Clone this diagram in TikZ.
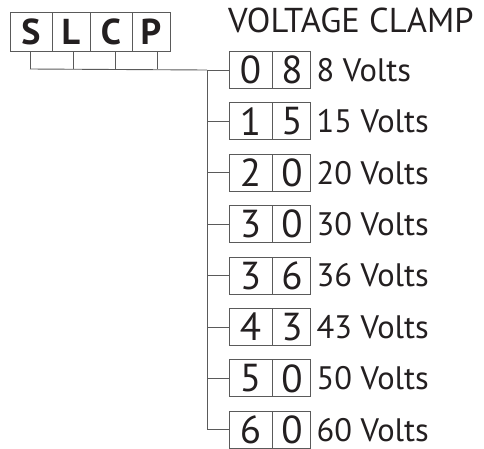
\documentclass[tikz,border=0pt]{standalone}
\usepackage{fontspec}
\setmainfont{PT Sans}
\definecolor{ink}{HTML}{231F20}
\definecolor{wire}{HTML}{5A5A5A}
\begin{document}
\begin{tikzpicture}[x=1pt,y=-1pt,
  cell/.style={draw=wire,line width=0.9pt,minimum height=39pt,inner sep=0pt,text=ink,
    font=\fontsize{36}{36}\selectfont\bfseries},
  digit/.style={draw=wire,line width=0.9pt,minimum height=37pt,inner sep=0pt,text=ink,
    font=\fontsize{39}{39}\selectfont},
  lbl/.style={anchor=west,inner sep=0pt,text=ink,font=\fontsize{32.5}{32.5}\selectfont},
  conn/.style={draw=wire,line width=0.9pt}]
\useasboundingbox (0,0) rectangle (484,448);
% part-number cells
\node[cell,minimum width=42pt] (S) at (31,31.5) {S};
\node[cell,minimum width=38pt] (L) at (71,31.5) {L};
\node[cell,minimum width=42pt] (C) at (111,31.5) {C};
\node[cell,minimum width=38pt] (P) at (151,31.5) {P};
\node[anchor=west,inner sep=0pt,text=ink,font=\fontsize{34.5}{34.5}\selectfont] (title) at (228,20) {VOLTAGE CLAMP};
% bus
\coordinate (tS) at (30,69);
\coordinate (tL) at (73,69);
\coordinate (tC) at (115,69);
\coordinate (tP) at (157,69);
\draw[conn] (tS|-S.south) -- (tS);
\draw[conn] (tL|-S.south) -- (tL);
\draw[conn] (tC|-S.south) -- (tC);
\draw[conn] (tP|-S.south) -- (tP);
\coordinate (trunk) at (207,69);
% rows
\foreach \a/\b/\v [count=\i from 0] in {0/8/8,1/5/15,2/0/20,3/0/30,3/6/36,4/3/43,5/0/50,6/0/60}{
  \pgfmathsetmacro{\yy}{70+51.4*\i}
  \node[digit,minimum width=43pt] (a\i) at (250.5,\yy) {\a};
  \node[digit,minimum width=38pt,anchor=west] (b\i) at (a\i.east) {\b};
  \node[lbl] (v\i) at ([xshift=5pt]b\i.east) {\v\ Volts};
  \coordinate (j\i) at (trunk|-a\i.west);
  \draw[conn] (j\i) -- (a\i.west);
}
\draw[conn] (tS) -- (j0);
\draw[conn] (j0) -- (j7);
\end{tikzpicture}
\end{document}
